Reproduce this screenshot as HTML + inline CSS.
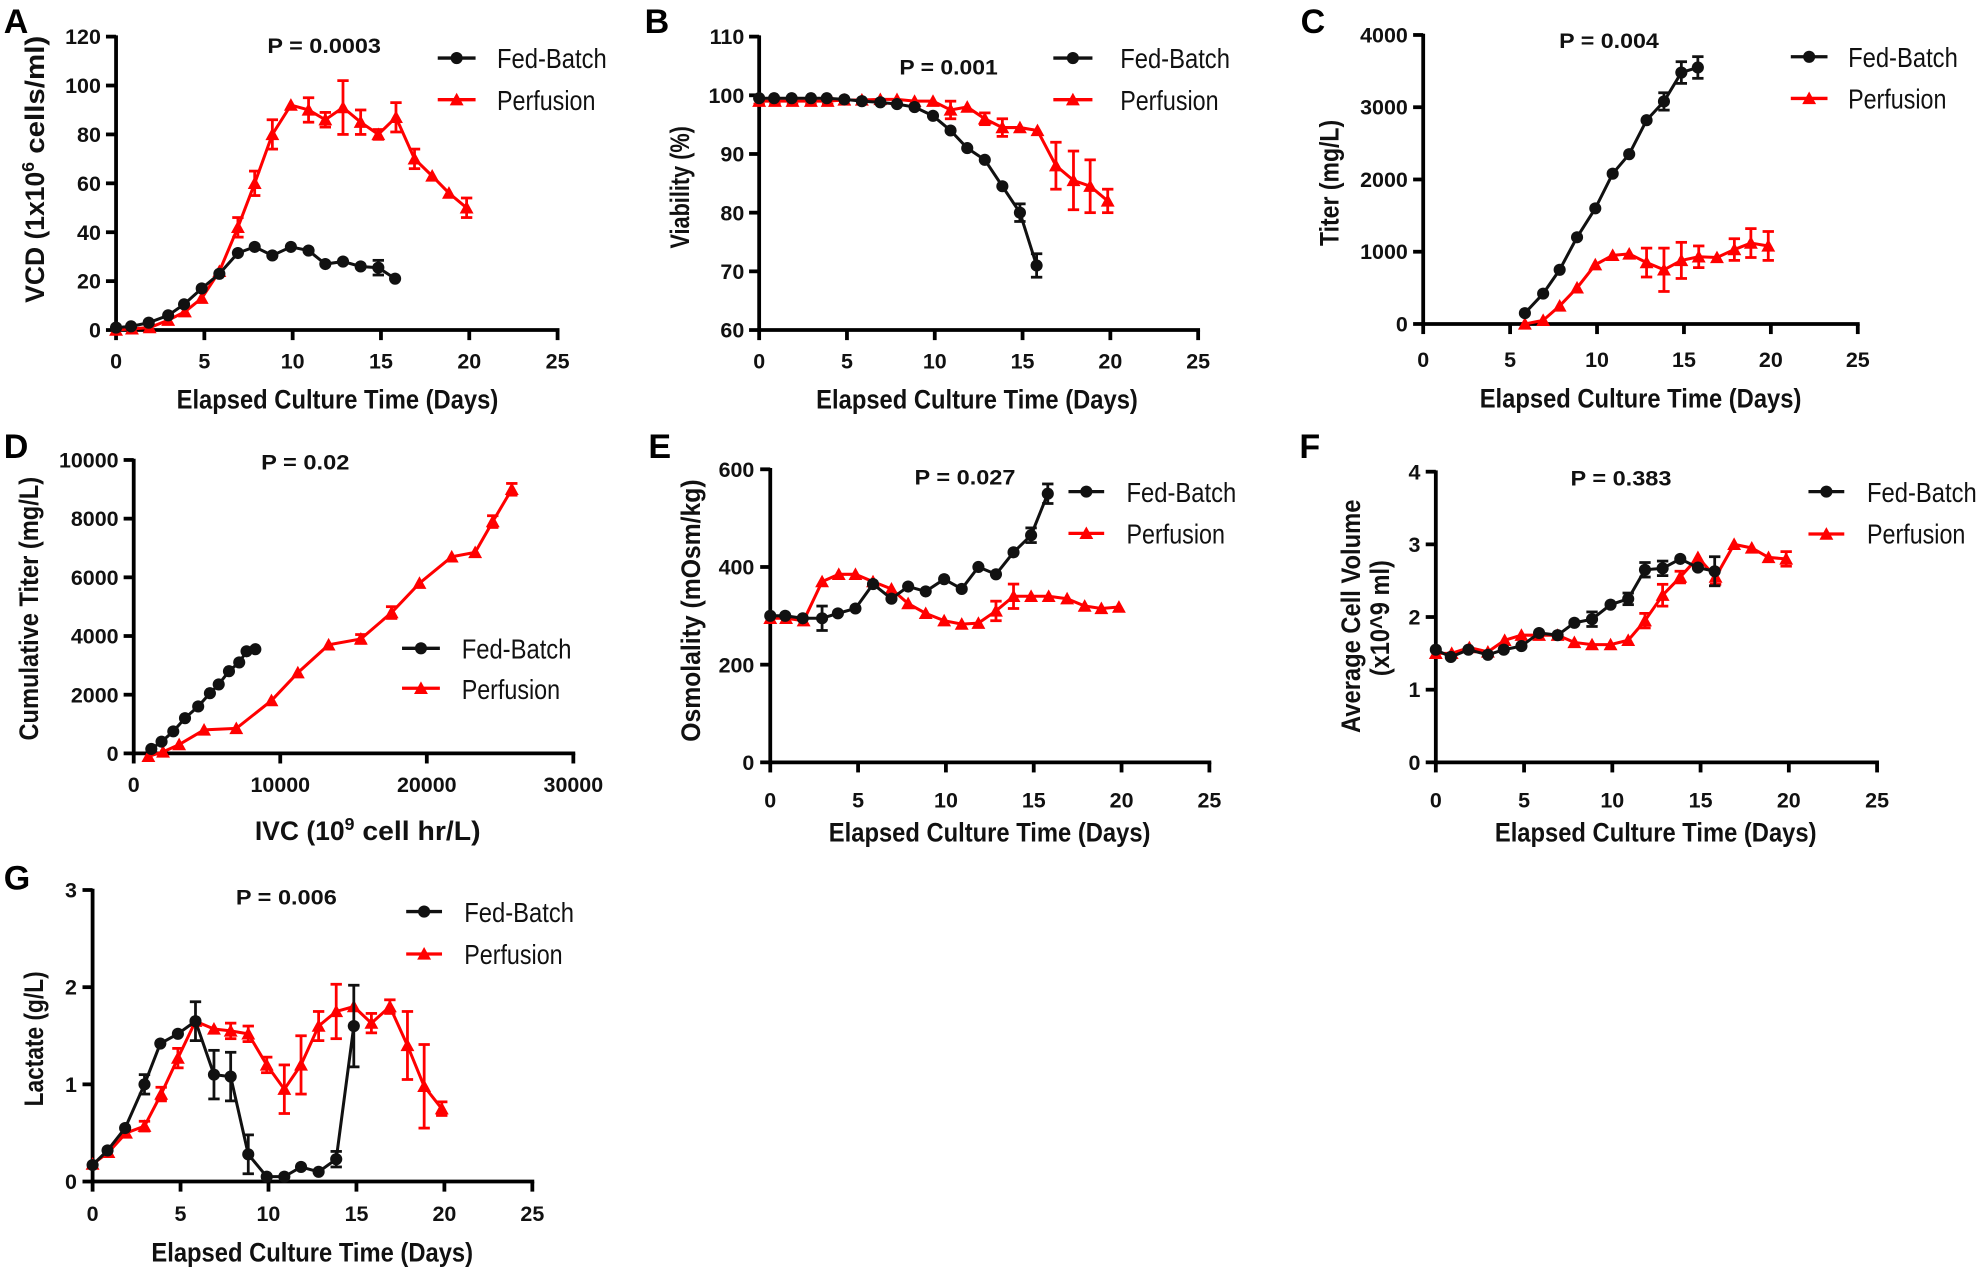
<!DOCTYPE html>
<html><head><meta charset="utf-8"><style>
html,body{margin:0;padding:0;background:#fff;}
svg{display:block;}
.t{font-family:"Liberation Sans Narrow","Liberation Sans",sans-serif;font-weight:bold;font-size:17px;fill:#111;}
.ax{font-family:"Liberation Sans Narrow","Liberation Sans",sans-serif;font-weight:bold;font-size:21px;fill:#111;}
.lg{font-family:"Liberation Sans Narrow","Liberation Sans",sans-serif;font-size:22px;fill:#111;}
.pv{font-family:"Liberation Sans",sans-serif;font-weight:bold;font-size:17px;fill:#111;}
.let{font-family:"Liberation Sans",sans-serif;font-weight:bold;font-size:27px;fill:#000;}
</style></head><body>
<svg id="s" width="1978" height="1271" viewBox="0 0 1568 1007.5" xmlns="http://www.w3.org/2000/svg">
<rect width="1568" height="1007.5" fill="#fff"/>
<text class="let" x="3" y="26">A</text>
<text class="let" x="511" y="26">B</text>
<text class="let" x="1031" y="26">C</text>
<text class="let" x="3" y="363">D</text>
<text class="let" x="514" y="363">E</text>
<text class="let" x="1030" y="363">F</text>
<text class="let" x="3" y="705">G</text>

<text class="pv" x="212" y="42" textLength="90" lengthAdjust="spacingAndGlyphs">P = 0.0003</text>
<text class="pv" x="713" y="59" textLength="78" lengthAdjust="spacingAndGlyphs">P = 0.001</text>
<text class="pv" x="1236" y="38" textLength="79" lengthAdjust="spacingAndGlyphs">P = 0.004</text>
<text class="pv" x="207" y="372" textLength="70" lengthAdjust="spacingAndGlyphs">P = 0.02</text>
<text class="pv" x="725" y="384" textLength="80" lengthAdjust="spacingAndGlyphs">P = 0.027</text>
<text class="pv" x="1245" y="385" textLength="80" lengthAdjust="spacingAndGlyphs">P = 0.383</text>
<text class="pv" x="187" y="717" textLength="80" lengthAdjust="spacingAndGlyphs">P = 0.006</text>

<g class="lg">
<text x="394" y="54" textLength="87" lengthAdjust="spacingAndGlyphs">Fed-Batch</text><text x="394" y="87" textLength="78" lengthAdjust="spacingAndGlyphs">Perfusion</text>
<text x="888" y="54" textLength="87" lengthAdjust="spacingAndGlyphs">Fed-Batch</text><text x="888" y="87" textLength="78" lengthAdjust="spacingAndGlyphs">Perfusion</text>
<text x="1465" y="53" textLength="87" lengthAdjust="spacingAndGlyphs">Fed-Batch</text><text x="1465" y="86" textLength="78" lengthAdjust="spacingAndGlyphs">Perfusion</text>
<text x="366" y="522" textLength="87" lengthAdjust="spacingAndGlyphs">Fed-Batch</text><text x="366" y="554" textLength="78" lengthAdjust="spacingAndGlyphs">Perfusion</text>
<text x="893" y="398" textLength="87" lengthAdjust="spacingAndGlyphs">Fed-Batch</text><text x="893" y="431" textLength="78" lengthAdjust="spacingAndGlyphs">Perfusion</text>
<text x="1480" y="398" textLength="87" lengthAdjust="spacingAndGlyphs">Fed-Batch</text><text x="1480" y="431" textLength="78" lengthAdjust="spacingAndGlyphs">Perfusion</text>
<text x="368" y="731" textLength="87" lengthAdjust="spacingAndGlyphs">Fed-Batch</text><text x="368" y="764" textLength="78" lengthAdjust="spacingAndGlyphs">Perfusion</text>
</g>

<text class="ax" x="140" y="324" textLength="255" lengthAdjust="spacingAndGlyphs">Elapsed Culture Time (Days)</text>
<text class="ax" x="647" y="324" textLength="255" lengthAdjust="spacingAndGlyphs">Elapsed Culture Time (Days)</text>
<text class="ax" x="1173" y="323" textLength="255" lengthAdjust="spacingAndGlyphs">Elapsed Culture Time (Days)</text>
<text class="ax" x="202" y="666">IVC (10<tspan dy="-8" font-size="14">9</tspan><tspan dy="8" textLength="100" lengthAdjust="spacingAndGlyphs"> cell hr/L)</tspan></text>
<text class="ax" x="657" y="667" textLength="255" lengthAdjust="spacingAndGlyphs">Elapsed Culture Time (Days)</text>
<text class="ax" x="1185" y="667" textLength="255" lengthAdjust="spacingAndGlyphs">Elapsed Culture Time (Days)</text>
<text class="ax" x="120" y="1000" textLength="255" lengthAdjust="spacingAndGlyphs">Elapsed Culture Time (Days)</text>

<text class="ax" transform="translate(35,240) rotate(-90)">VCD (1x10<tspan dy="-8" font-size="14">6</tspan><tspan dy="8" textLength="100" lengthAdjust="spacingAndGlyphs"> cells/ml)</tspan></text>
<text class="ax" transform="translate(546,197) rotate(-90)" textLength="97" lengthAdjust="spacingAndGlyphs">Viability (%)</text>
<text class="ax" transform="translate(1061,195) rotate(-90)" textLength="100" lengthAdjust="spacingAndGlyphs">Titer (mg/L)</text>
<text class="ax" transform="translate(30,587) rotate(-90)" textLength="209" lengthAdjust="spacingAndGlyphs">Cumulative Titer (mg/L)</text>
<text class="ax" transform="translate(555,588) rotate(-90)" textLength="208" lengthAdjust="spacingAndGlyphs">Osmolality (mOsm/kg)</text>
<text class="ax" transform="translate(1078,581) rotate(-90)" textLength="185" lengthAdjust="spacingAndGlyphs">Average Cell Volume</text>
<text class="ax" transform="translate(1101,536) rotate(-90)" textLength="92" lengthAdjust="spacingAndGlyphs">(x10^9 ml)</text>
<text class="ax" transform="translate(34,877) rotate(-90)" textLength="107" lengthAdjust="spacingAndGlyphs">Lactate (g/L)</text>

<g class="t" text-anchor="middle">
<text x="92" y="292">0</text><text x="162" y="292">5</text><text x="232" y="292">10</text><text x="302" y="292">15</text><text x="372" y="292">20</text><text x="442" y="292">25</text>
<text x="601.8" y="292">0</text><text x="671.4" y="292">5</text><text x="741" y="292">10</text><text x="810.6" y="292">15</text><text x="880.2" y="292">20</text><text x="949.8" y="292">25</text>
<text x="1128.2" y="291">0</text><text x="1197.1" y="291">5</text><text x="1266" y="291">10</text><text x="1334.9" y="291">15</text><text x="1403.8" y="291">20</text><text x="1472.7" y="291">25</text>
<text x="106" y="628">0</text><text x="222.2" y="628">10000</text><text x="338.3" y="628">20000</text><text x="454.5" y="628">30000</text>
<text x="610.6" y="640">0</text><text x="680.2" y="640">5</text><text x="749.9" y="640">10</text><text x="819.5" y="640">15</text><text x="889.1" y="640">20</text><text x="958.7" y="640">25</text>
<text x="1138.2" y="640">0</text><text x="1208.2" y="640">5</text><text x="1278.1" y="640">10</text><text x="1348.1" y="640">15</text><text x="1418" y="640">20</text><text x="1488" y="640">25</text>
<text x="73.4" y="968">0</text><text x="143.1" y="968">5</text><text x="212.8" y="968">10</text><text x="282.6" y="968">15</text><text x="352.3" y="968">20</text><text x="422" y="968">25</text>
</g>
<g class="t" text-anchor="end">
<text x="80" y="267.6">0</text><text x="80" y="228.8">20</text><text x="80" y="190.1">40</text><text x="80" y="151.3">60</text><text x="80" y="112.6">80</text><text x="80" y="73.8">100</text><text x="80" y="35">120</text>
<text x="590" y="267.6">60</text><text x="590" y="221.1">70</text><text x="590" y="174.6">80</text><text x="590" y="128.1">90</text><text x="590" y="81.5">100</text><text x="590" y="35">110</text>
<text x="1116" y="262.8">0</text><text x="1116" y="205.5">1000</text><text x="1116" y="148.2">2000</text><text x="1116" y="90.9">3000</text><text x="1116" y="33.7">4000</text>
<text x="94" y="603.2">0</text><text x="94" y="556.7">2000</text><text x="94" y="510.2">4000</text><text x="94" y="463.6">6000</text><text x="94" y="417.1">8000</text><text x="94" y="370.6">10000</text>
<text x="598" y="610.3">0</text><text x="598" y="532.9">200</text><text x="598" y="455.4">400</text><text x="598" y="378">600</text>
<text x="1126" y="610.3">0</text><text x="1126" y="552.7">1</text><text x="1126" y="495.1">2</text><text x="1126" y="437.5">3</text><text x="1126" y="379.9">4</text>
<text x="61" y="942.6">0</text><text x="61" y="865.6">1</text><text x="61" y="788.5">2</text><text x="61" y="711.5">3</text>
</g>
<g id="g"></g>
</svg>
<script>
var NS="http://www.w3.org/2000/svg",G=document.getElementById('g');
function el(t,a){var e=document.createElementNS(NS,t);for(var k in a)e.setAttribute(k,a[k]);G.appendChild(e);return e;}
var F=[0,.85,1.85,2.95,3.85,4.85,5.85,6.9,7.85,8.85,9.9,10.9,11.85,12.85,13.85,14.85,15.8];
var PD=[0,.9,1.9,2.95,3.9,4.85,5.85,6.9,7.85,8.85,9.9,10.9,11.85,12.85,13.85,14.85,15.85,16.9,17.9,18.85,19.85];
function panel(c){
 var sx=function(v){return c.px0+(v-c.xmin)/(c.xmax-c.xmin)*(c.px1-c.px0);};
 var sy=function(v){return c.py0+(v-c.ymin)/(c.ymax-c.ymin)*(c.py1-c.py0);};
 el('line',{x1:c.px0,y1:c.py1-1,x2:c.px0,y2:c.py0+1.5,stroke:'#000','stroke-width':3});
 el('line',{x1:c.px0-1.5,y1:c.py0,x2:c.px1+1.5,y2:c.py0,stroke:'#000','stroke-width':3});
 c.xt.forEach(function(v){el('line',{x1:sx(v),y1:c.py0,x2:sx(v),y2:c.py0+8,stroke:'#000','stroke-width':3});});
 c.yt.forEach(function(v){el('line',{x1:c.px0-8,y1:sy(v),x2:c.px0,y2:sy(v),stroke:'#000','stroke-width':3});});
 [['p','#f00'],['f','#111']].forEach(function(s){
  var d=c[s[0]];if(!d)return;var col=s[1];
  var pts=d.map(function(q){return [sx(q[0]),sy(q[1]),q[2]||0];});
  el('polyline',{points:pts.map(function(p){return p[0]+','+p[1];}).join(' '),fill:'none',stroke:col,'stroke-width':2.4});
  pts.forEach(function(p,i){
   var e=d[i][2]||0;
   if(e){var a=sy(d[i][1]+e),b=sy(d[i][1]-e);
    el('line',{x1:p[0],y1:a,x2:p[0],y2:b,stroke:col,'stroke-width':2.2});
    el('line',{x1:p[0]-4.5,y1:a,x2:p[0]+4.5,y2:a,stroke:col,'stroke-width':2.2});
    el('line',{x1:p[0]-4.5,y1:b,x2:p[0]+4.5,y2:b,stroke:col,'stroke-width':2.2});}
   if(s[0]=='f')el('circle',{cx:p[0],cy:p[1],r:4.8,fill:col});
   else el('polygon',{points:(p[0]-5.5)+','+(p[1]+4.5)+' '+(p[0]+5.5)+','+(p[1]+4.5)+' '+p[0]+','+(p[1]-5.5),fill:col});
  });
 });
 var L=c.lg;
 el('line',{x1:L[0],y1:L[2],x2:L[1],y2:L[2],stroke:'#111','stroke-width':2.6});
 el('circle',{cx:(L[0]+L[1])/2,cy:L[2],r:4.8,fill:'#111'});
 el('line',{x1:L[0],y1:L[3],x2:L[1],y2:L[3],stroke:'#f00','stroke-width':2.6});
 var m=(L[0]+L[1])/2;el('polygon',{points:(m-5.5)+','+(L[3]+4.5)+' '+(m+5.5)+','+(L[3]+4.5)+' '+m+','+(L[3]-5.5),fill:'#f00'});
}
function ser(days,vals,errs){return vals.map(function(v,i){return [days[i],v,errs&&errs[i]||0];});}
panel({px0:92,px1:442,py0:261.6,py1:29,xmin:0,xmax:25,ymin:0,ymax:120,xt:[0,5,10,15,20,25],yt:[0,20,40,60,80,100,120],lg:[347,377,46,79],
 f:ser(F,[1,1.5,3,6,10.5,17,23,31.5,34,30.5,34,32.5,27,28,26,25.5,21],[0,0,0,0,0,0,0,0,0,0,0,0,0,0,0,3,0]),
 p:ser(PD,[0,.5,1,4,7.5,13,24,42,60,80,92,90,86,91,85,80,87,70,63,56,50],[0,0,0,0,0,0,0,4,5,6,0,5,3,11,5,2,6,4,0,0,4])});
panel({px0:601.8,px1:949.8,py0:261.6,py1:29,xmin:0,xmax:25,ymin:60,ymax:110,xt:[0,5,10,15,20,25],yt:[60,70,80,90,100,110],lg:[835,866,46,79],
 f:ser(F,[99.5,99.5,99.5,99.5,99.5,99.3,99,98.8,98.5,98,96.5,94,91,89,84.5,80,71],[0,0,0,0,0,0,0,0,0,0,0,0,0,0,0,1.5,2]),
 p:ser(PD,[99,99,99,99,99,99.2,99.2,99.3,99.3,99,99,97.5,98,96,94.5,94.5,94,88,85.5,84.5,82],[.5,.5,.5,.5,.5,0,0,0,0,0,0,1.5,0,1,1.5,0,0,4,5,4.5,2])});
panel({px0:1128.2,px1:1472.7,py0:256.8,py1:27.7,xmin:0,xmax:25,ymin:0,ymax:4000,xt:[0,5,10,15,20,25],yt:[0,1000,2000,3000,4000],lg:[1419.6,1448.7,45,78],
 f:ser(F.slice(6),[150,420,750,1200,1600,2080,2350,2820,3080,3480,3550],[0,0,0,0,0,0,0,0,120,150,150]),
 p:ser(PD.slice(6),[0,50,250,500,820,950,970,850,750,880,930,920,1030,1120,1080],[0,0,0,0,0,0,0,200,300,250,150,0,150,200,200])});
panel({px0:106,px1:454.5,py0:597.2,py1:364.6,xmin:0,xmax:30000,ymin:0,ymax:10000,xt:[0,10000,20000,30000],yt:[0,2000,4000,6000,8000,10000],lg:[318.7,348.7,513.9,545.6],
 f:[[1200,150],[1900,400],[2700,750],[3500,1200],[4400,1600],[5200,2050],[5800,2350],[6500,2800],[7200,3100],[7700,3480],[8300,3550]],
 p:[[1000,-100],[2000,50],[3100,300],[4800,800],[7000,850],[9400,1800],[11200,2750],[13300,3700],[15500,3900,150],[17600,4800,200],[19500,5800],[21700,6700],[23300,6850],[24500,7900,200],[25800,9000,200]]});
panel({px0:610.6,px1:958.7,py0:604.3,py1:372,xmin:0,xmax:25,ymin:0,ymax:600,xt:[0,5,10,15,20,25],yt:[0,200,400,600],lg:[847,875.3,389.7,422.8],
 f:ser(F,[300,300,295,295,305,315,365,335,360,350,375,355,400,385,430,465,550],[0,0,0,25,0,0,0,0,0,0,0,0,0,0,0,15,20]),
 p:ser(PD,[295,295,290,370,385,385,370,355,325,305,290,283,285,310,340,340,340,335,320,315,318],[0,0,0,0,0,0,0,0,0,0,0,0,0,20,25,0,0,0,0,0,0])});
panel({px0:1138.2,px1:1488,py0:604.3,py1:373.9,xmin:0,xmax:25,ymin:0,ymax:4,xt:[0,5,10,15,20,25],yt:[0,1,2,3,4],lg:[1433.6,1462,389.7,423.3],
 f:ser(F,[1.55,1.45,1.55,1.48,1.55,1.6,1.78,1.75,1.92,1.97,2.17,2.25,2.65,2.67,2.8,2.68,2.63],[0,0,0,0,0,0,0,0,0,.1,0,.08,.1,.1,0,0,.2]),
 p:ser(PD,[1.5,1.5,1.58,1.52,1.68,1.75,1.75,1.75,1.65,1.62,1.62,1.68,1.95,2.3,2.55,2.82,2.55,3,2.95,2.82,2.8],[0,0,0,0,0,0,0,0,0,0,0,0,.1,.15,.08,0,.1,0,0,0,.1])});
panel({px0:73.4,px1:422,py0:936.6,py1:705.5,xmin:0,xmax:25,ymin:0,ymax:3,xt:[0,5,10,15,20,25],yt:[0,1,2,3],lg:[322,350.4,722.6,756.2],
 f:ser(F.slice(0,16),[.17,.32,.55,1.0,1.42,1.52,1.65,1.1,1.08,.28,.05,.05,.15,.1,.23,1.6],[0,0,0,.1,0,0,.2,.25,.25,.2,0,0,0,0,.08,.42]),
 p:ser(PD,[.18,.3,.5,.57,.9,1.27,1.65,1.57,1.55,1.52,1.2,.95,1.2,1.6,1.75,1.8,1.63,1.8,1.4,.98,.75],[0,0,0,.05,.07,.1,0,0,.08,.08,.08,.25,.3,.15,.28,0,.1,.07,.35,.43,.07])});
</script>
</body></html>
